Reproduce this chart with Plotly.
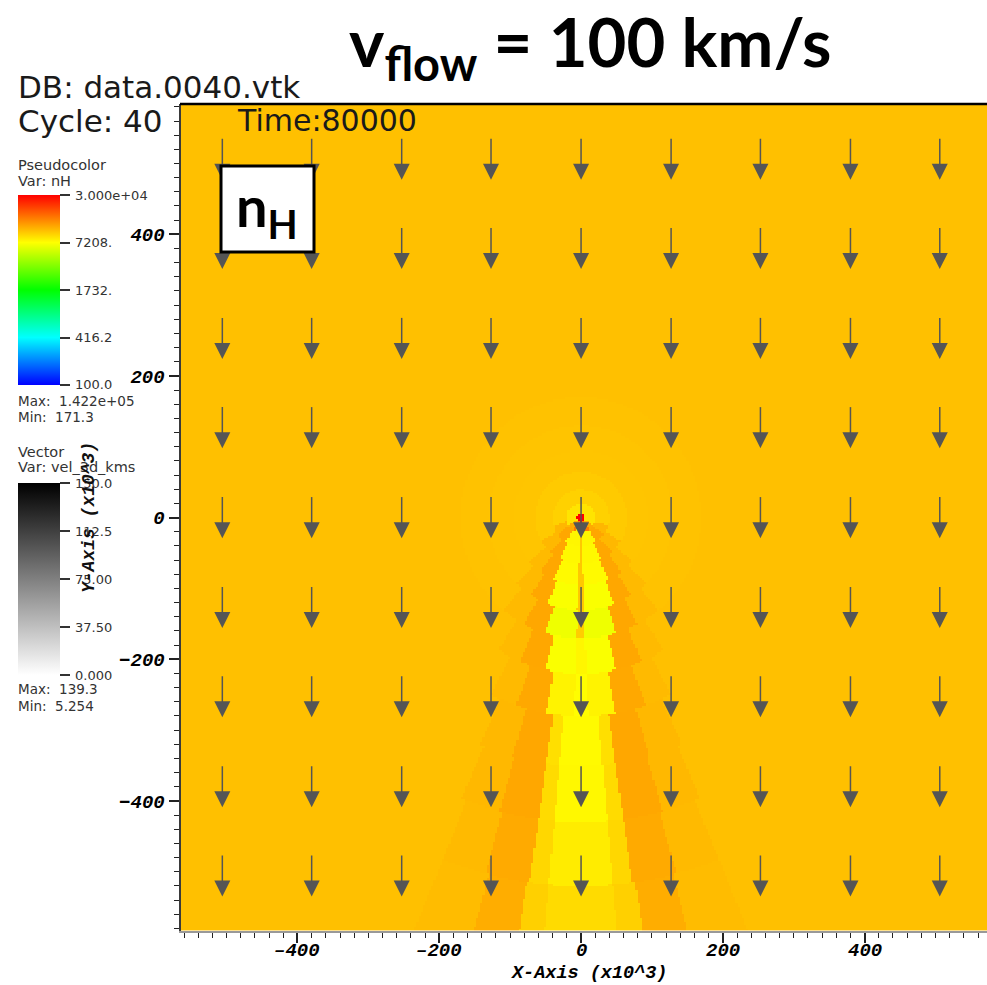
import numpy as np
import plotly.graph_objects as go

W, H = 987, 985

# ---------------- density field nH (cm^-3) ----------------
# Rings around the obstacle at the origin (x10^3 units). Within each ring the wake is
# split into bands by half-angle, measured from the downstream (-y) direction in degrees:
# a thin centre line, the low-density (yellow) core, a dense (dark orange) sheath,
# a weaker outer sheath, then the surrounding ambient gas.
R_EDGES = [0, 6, 20, 40, 65, 95, 130, 170, 220, 280, 350, 430, 520, 2000]
CENTER_HALF = [180, 3, 2, 2, 2.5, 2.5, 2, 2, 2, 5, 5, 5, 5]
CORE_HALF = [180, 18, 33, 27, 24, 21, 17, 13, 10, 8, 8, 8, 8.5]
SHEATH_OUT = [180, 35, 55, 42, 37, 33, 28, 23, 19, 16, 15.5, 15, 14.5]
OUTER_OUT = [180, 60, 75, 60, 50, 45, 40, 32, 27, 24, 23, 22, 22]
NH_CENTER = [32000, 11000, 9800, 9800, 9800, 9800, 9500, 7600, 7300, 7400, 7500, 8000, 8800]
NH_CORE = [32000, 7600, 7600, 7500, 7400, 7000, 6600, 7000, 7700, 8600, 8800, 9000, 9400]
NH_SHEATH = [32000, 15000, 11800, 11800, 11800, 11800, 11800, 11800, 11700, 11800, 11800, 11600, 11400]
NH_OUTER = [32000, 11500, 10800, 10700, 10600, 10600, 10600, 10600, 10600, 10700, 10700, 10600, 10500]
NH_AMBIENT = [32000, 8400, 9300, 9700, 9950, 10050, 10150, 10260, 10260, 10260, 10260, 10260, 10260]

NH_MIN, NH_MAX = 100.0, 3.0e4
NH_TICKS = [3.0e4, 7208.0, 1732.0, 416.2, 100.0]
NH_TICK_TEXT = ["3.000e+04", "7208.", "1732.", "416.2", "100.0"]

# ---------------- velocity vectors (km/s) ----------------
ARROW_X = [-506, -380, -253, -127, 0, 127, 253, 380, 506]
ARROW_Y = [506, 380, 253, 127, 0, -127, -253, -380, -506]
VEL_Y = [
    [-100, -100, -100, -100, -100, -100, -100, -100, -100],
    [-100, -100, -100, -100, -100, -100, -100, -100, -100],
    [-100, -100, -100, -100, -100, -100, -100, -100, -100],
    [-100, -100, -100, -100, -100, -100, -100, -100, -100],
    [-100, -100, -100, -100, -100, -100, -100, -100, -100],
    [-100, -100, -100, -100, -100, -100, -100, -100, -100],
    [-100, -100, -100, -100, -100, -100, -100, -100, -100],
    [-100, -100, -100, -100, -100, -100, -100, -100, -100],
    [-100, -100, -100, -100, -100, -100, -100, -100, -100],
]
VEL_MIN, VEL_MAX = 0.0, 150.0
VEL_TICKS = [150.0, 112.5, 75.0, 37.5, 0.0]
VEL_TICK_TEXT = ["150.0", "112.5", "75.00", "37.50", "0.000"]
ARROW_SCALE = 0.58   # plot units per km/s

# axis ticks (x10^3)
X_TICKS = [-400, -200, 0, 200, 400]
X_RANGE = [-565, 572.6]
Y_RANGE = [-583, 584]

# legend bars (pixels): left, top, length
NH_BAR = (17.5, 195, 190)
VEL_BAR = (17.5, 483, 192)
BAR_W = 42


def px(x):
    return x / W


def py(y):
    return 1 - y / H


# resample the polar bands onto a regular grid
cell = 3.0
xs = np.arange(X_RANGE[0], X_RANGE[1] + cell, cell) + cell / 2
ys = np.arange(Y_RANGE[0], Y_RANGE[1] + cell, cell) + cell / 2
XX, YY = np.meshgrid(xs, ys)
RR = np.hypot(XX, YY)
ANG = np.abs(np.degrees(np.arctan2(XX, -YY)))
ri = np.clip(np.digitize(RR, R_EDGES) - 1, 0, len(R_EDGES) - 2)


def ring(vals):
    return np.asarray(vals, dtype=float)[ri]


nh = np.where(ANG < ring(CENTER_HALF), ring(NH_CENTER),
     np.where(ANG < ring(CORE_HALF), ring(NH_CORE),
     np.where(ANG < ring(SHEATH_OUT), ring(NH_SHEATH),
     np.where(ANG < ring(OUTER_OUT), ring(NH_OUTER), ring(NH_AMBIENT)))))
zlog = np.round(np.log10(nh), 4)

rainbow = [[0.0, "rgb(0,0,255)"], [0.25, "rgb(0,255,255)"], [0.5, "rgb(0,255,0)"],
           [0.75, "rgb(255,255,0)"], [1.0, "rgb(255,0,0)"]]
grays = [[0.0, "rgb(255,255,255)"], [1.0, "rgb(0,0,0)"]]

label_font = dict(family="DejaVu Sans", size=13, color="#333333")
NBSP = "\u00a0"


def bar(b, tickvals):
    x0, top, length = b
    return dict(x=px(x0), xanchor="left", y=py(top), yanchor="top",
                len=length, lenmode="pixels", thickness=BAR_W, thicknessmode="pixels",
                xpad=0, ypad=0, outlinewidth=0,
                ticks="outside", ticklen=10, tickwidth=1.5, tickcolor="#333333",
                tickvals=tickvals, showticklabels=False)


fig = go.Figure()
fig.add_trace(go.Heatmap(
    x=xs, y=ys, z=zlog, zmin=np.log10(NH_MIN), zmax=np.log10(NH_MAX),
    colorscale=rainbow, zsmooth=False, hoverinfo="skip",
    colorbar=bar(NH_BAR, list(np.log10(NH_TICKS))),
))

# arrows: shafts then heads
sx, sy, hx, hy, mag = [], [], [], [], []
for j, yc in enumerate(ARROW_Y):
    for i, xc in enumerate(ARROW_X):
        vy = VEL_Y[j][i]
        tail = yc - vy * ARROW_SCALE / 2
        tip = yc + vy * ARROW_SCALE / 2
        sx += [xc, xc, None]
        sy += [tail, tip + 6, None]
        hx.append(xc)
        hy.append(tip)
        mag.append(abs(vy))
g = int(round(255 * (1 - np.mean(mag) / VEL_MAX)))
fig.add_trace(go.Scatter(x=sx, y=sy, mode="lines", hoverinfo="skip",
                         line=dict(color=f"rgb({g},{g},{g})", width=1.5),
                         showlegend=False))
fig.add_trace(go.Scatter(
    x=hx, y=hy, mode="markers", hoverinfo="skip", showlegend=False,
    marker=dict(symbol="arrow-down", size=16, color=mag, cmin=VEL_MIN, cmax=VEL_MAX,
                colorscale=grays, line=dict(width=0),
                colorbar=bar(VEL_BAR, VEL_TICKS)),
))

tick_font = dict(family="Liberation Mono", size=19, color="black", weight="bold", style="italic")

fig.update_layout(
    width=W, height=H,
    margin=dict(l=0, r=0, t=0, b=0, autoexpand=False),
    paper_bgcolor="white", plot_bgcolor="white",
    showlegend=False,
    xaxis=dict(domain=[px(180.5), 1.0], range=X_RANGE, showgrid=False, zeroline=False,
               ticks="outside", ticklen=10, tickwidth=1.5, tickcolor="#222222",
               tickvals=X_TICKS, showticklabels=False,
               minor=dict(dtick=20, ticks="outside", ticklen=5, tickcolor="#222222", tickwidth=1),
               showline=True, linecolor="#999999", linewidth=2),
    yaxis=dict(domain=[py(930.5), py(104)], range=Y_RANGE, showgrid=False, zeroline=False,
               ticks="outside", ticklen=10, tickwidth=1.5, tickcolor="#222222",
               dtick=200, tick0=0, tickfont=tick_font,
               minor=dict(dtick=20, ticks="outside", ticklen=5, tickcolor="#222222", tickwidth=1),
               showline=True, linecolor="#3a3a3a", linewidth=2),
)

# top border of the plot and the label box
fig.add_shape(type="line", xref="paper", yref="paper", x0=px(180), x1=1.0, y0=py(104), y1=py(104),
              line=dict(color="black", width=2.5), layer="above")
fig.add_shape(type="rect", xref="paper", yref="paper", x0=px(221), x1=px(314), y0=py(252), y1=py(166),
              line=dict(color="black", width=3), fillcolor="white", layer="above")

annots = []

# x tick labels, set just under the ticks
for v in X_TICKS:
    annots.append(dict(text=f"{v:d}".replace("-", "\u2013"),
                       x=v, y=py(951), xref="x", yref="paper", showarrow=False,
                       xanchor="center", yanchor="middle", font=tick_font))


# legend bar labels, placed at each tick's fraction along the bar
def bar_labels(b, vals, texts, lo, hi):
    x0, top, length = b
    for v, t in zip(vals, texts):
        frac = (v - lo) / (hi - lo)
        ypix = top + (1 - frac) * length
        annots.append(dict(text=t, x=px(x0 + BAR_W + 13), y=py(ypix), xref="paper", yref="paper",
                           showarrow=False, xanchor="left", yanchor="middle", font=label_font))


bar_labels(NH_BAR, list(np.log10(NH_TICKS)), NH_TICK_TEXT, np.log10(NH_MIN), np.log10(NH_MAX))
bar_labels(VEL_BAR, VEL_TICKS, VEL_TICK_TEXT, VEL_MIN, VEL_MAX)


def text(s, x, y, size, family="DejaVu Sans", color="#1a1a1a", xanchor="left", **kw):
    annots.append(dict(text=s, x=px(x), y=py(y), xref="paper", yref="paper", showarrow=False,
                       xanchor=xanchor, yanchor="middle",
                       font=dict(family=family, size=size, color=color, **kw)))


text("DB: data.0040.vtk", 16, 87, 31)
text("Cycle: 40", 16, 121, 31)
text("Time:80000", 235, 121, 30)
text("Pseudocolor", 16, 165, 14.5, color="#333333")
text("Var: nH", 16, 181, 14.5, color="#333333")
text("Max:" + NBSP * 2 + "1.422e+05", 16, 401, 13.5, color="#333333")
text("Min:" + NBSP * 2 + "171.3", 16, 417, 13.5, color="#333333")
text("Vector", 16, 452, 14.5, color="#333333")
text("Var: vel_3d_kms", 16, 467, 14.5, color="#333333")
text("Max:" + NBSP * 2 + "139.3", 16, 689, 13.5, color="#333333")
text("Min:" + NBSP * 2 + "5.254", 16, 706, 13.5, color="#333333")
text("X-Axis (x10^3)", 589, 973, 18.5, family="Liberation Mono", color="black",
     xanchor="center", weight="bold", style="italic")
annots.append(dict(text="Y-Axis (x10^3)", x=px(89), y=py(518), xref="paper", yref="paper",
                   showarrow=False, textangle=-90, xanchor="center", yanchor="middle",
                   font=dict(family="Liberation Mono", size=18, color="#111111",
                             weight="bold", style="italic")))
# headline, hung from the top edge of the page
annots.append(dict(text="v<sub>flow</sub> = 100 km/s", x=px(590), y=1.0, xref="paper", yref="paper",
                   showarrow=False, xanchor="center", yanchor="top", borderpad=0,
                   font=dict(family="Lato", size=67, color="black", weight="bold")))
text("n<sub>H</sub>", 267, 209, 56, family="Lato", color="black",
     xanchor="center", weight="bold")
fig.update_layout(annotations=annots)

fig.write_html("out.html")
